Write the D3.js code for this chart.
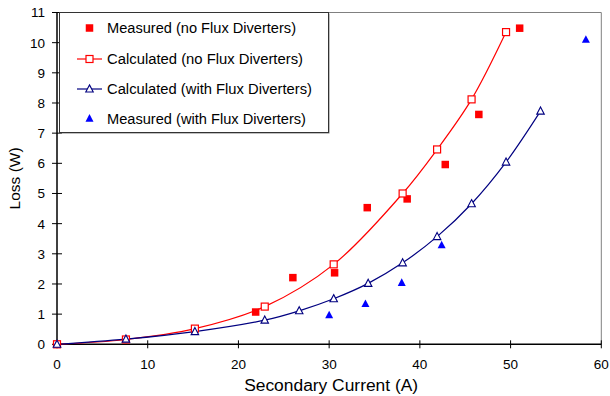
<!DOCTYPE html>
<html><head><meta charset="utf-8">
<script src="https://cdn.jsdelivr.net/npm/d3@7"></script>
<style>body{margin:0;background:#fff;} text{font-family:Arial,"Liberation Sans",sans-serif;}</style>
</head><body><svg id="c" width="610" height="396"></svg>
<script>
const xTicks = [0,10,20,30,40,50,60];
const yTicks = [0,1,2,3,4,5,6,7,8,9,10,11];
const calcNoFD_x = [0,7.6,15.2,22.9,30.5,38.1,41.9,45.7,49.5];
const calcNoFD_y = [0,0.16,0.52,1.25,2.65,5.0,6.46,8.12,10.35];
const calcFD_x = [0,7.6,15.2,22.9,26.7,30.5,34.3,38.1,41.9,45.7,49.5,53.3];
const calcFD_y = [0,0.17,0.42,0.8,1.11,1.51,2.02,2.7,3.57,4.66,6.04,7.73];
const measNoFD_x = [0,21.9,26.0,30.6,34.2,38.6,42.8,46.5,51.0];
const measNoFD_y = [0,1.07,2.21,2.37,4.53,4.82,5.96,7.62,10.48];
const measFD_x = [0,30.0,34.0,38.0,42.4,58.3];
const measFD_y = [0,0.97,1.34,2.04,3.29,10.1];
const legendLabels = ["Measured (no Flux Diverters)","Calculated (no Flux Diverters)","Calculated (with Flux Diverters)","Measured (with Flux Diverters)"];

const svg = d3.select("#c");
const L=57, R=601.3, T=12.5, B=344.3;
const x = d3.scaleLinear().domain([0,60]).range([L,R]);
const y = d3.scaleLinear().domain([0,11]).range([B,T]);

svg.append("path").attr("d",`M${L},${T}H${R}V${B}`).attr("fill","none").attr("stroke","#808080").attr("stroke-width",1);

const ax = svg.append("g");
ax.append("line").attr("x1",L).attr("x2",L).attr("y1",T).attr("y2",B).attr("stroke","#000").attr("stroke-width",1.5);
ax.append("line").attr("x1",L).attr("x2",R).attr("y1",B).attr("y2",B).attr("stroke","#000").attr("stroke-width",1.5);
yTicks.forEach(v=>{
  ax.append("line").attr("x1",L-5).attr("x2",L+5).attr("y1",y(v)).attr("y2",y(v)).attr("stroke","#000").attr("stroke-width",1);
  ax.append("text").attr("x",L-12).attr("y",y(v)).attr("dy","0.36em").attr("text-anchor","end").attr("font-size",13.5).attr("fill","#000").text(v);
});
xTicks.forEach(v=>{
  ax.append("line").attr("x1",x(v)).attr("x2",x(v)).attr("y1",B-4).attr("y2",B+4).attr("stroke","#000").attr("stroke-width",1);
  ax.append("text").attr("x",x(v)).attr("y",368.5).attr("text-anchor","middle").attr("font-size",13.5).attr("fill","#000").text(v);
});
svg.append("text").attr("x",(L+R)/2+2).attr("y",391).attr("text-anchor","middle").attr("font-size",16)
  .attr("textLength",174).attr("lengthAdjust","spacingAndGlyphs").text("Secondary Current (A)");
svg.append("text").attr("transform",`translate(20,${(T+B)/2}) rotate(-90)`).attr("text-anchor","middle").attr("font-size",15.5).text("Loss (W)");

const line = d3.line().x(d=>x(d[0])).y(d=>y(d[1])).curve(d3.curveCatmullRom.alpha(0.5));
const zip=(a,b)=>a.map((v,i)=>[v,b[i]]);
const cNo = zip(calcNoFD_x,calcNoFD_y), cFD = zip(calcFD_x,calcFD_y);
const mNo = zip(measNoFD_x,measNoFD_y), mFD = zip(measFD_x,measFD_y);

const sq = (g,cx,cy,s,fill,stroke)=>g.append("rect").attr("x",cx-s/2).attr("y",cy-s/2).attr("width",s).attr("height",s).attr("fill",fill).attr("stroke",stroke).attr("stroke-width",stroke=="none"?0:1.2);
const tri = (g,cx,cy,s,fill,stroke)=>g.append("path").attr("d",`M${cx},${cy-s*0.55}L${cx+s/2},${cy+s*0.4}L${cx-s/2},${cy+s*0.4}Z`).attr("fill",fill).attr("stroke",stroke).attr("stroke-width",stroke=="none"?0:1.1);

const g = svg.append("g");
mNo.forEach(d=>sq(g,x(d[0]),y(d[1]),7.5,"#ff0000","none"));
mFD.forEach(d=>tri(g,x(d[0]),y(d[1]),8,"#0000ff","none"));
g.append("path").datum(cNo).attr("d",line).attr("fill","none").attr("stroke","#ff0000").attr("stroke-width",1.2);
g.append("path").datum(cFD).attr("d",line).attr("fill","none").attr("stroke","#000080").attr("stroke-width",1.2);
cNo.forEach(d=>sq(g,x(d[0]),y(d[1]),7,"#fff","#ff0000"));
cFD.forEach(d=>tri(g,x(d[0]),y(d[1]),7.5,"#fff","#000080"));

const lg = svg.append("g");
lg.append("rect").attr("x",60.5).attr("y",13.5).attr("width",269).attr("height",120).attr("fill","#808080");
lg.append("rect").attr("x",59.5).attr("y",12.5).attr("width",269).attr("height",120).attr("fill","#fff").attr("stroke","#333").attr("stroke-width",1);
const rows=[28,59,89,118.5];
const widths=[189,196,205,199];
legendLabels.forEach((t,i)=>{
  const ry=rows[i], mx=89.5;
  if(i==0) sq(lg,mx,ry,7.5,"#ff0000","none");
  if(i==1){ lg.append("line").attr("x1",77).attr("x2",102).attr("y1",ry).attr("y2",ry).attr("stroke","#ff0000").attr("stroke-width",1.2); sq(lg,mx,ry,7,"#fff","#ff0000"); }
  if(i==2){ lg.append("line").attr("x1",77).attr("x2",102).attr("y1",ry).attr("y2",ry).attr("stroke","#000080").attr("stroke-width",1.2); tri(lg,mx,ry,7.5,"#fff","#000080"); }
  if(i==3) tri(lg,mx,ry,8,"#0000ff","none");
  lg.append("text").attr("x",107).attr("y",ry).attr("dy","0.36em").attr("font-size",14)
    .attr("textLength",widths[i]).attr("lengthAdjust","spacingAndGlyphs").text(t);
});
</script></body></html>
